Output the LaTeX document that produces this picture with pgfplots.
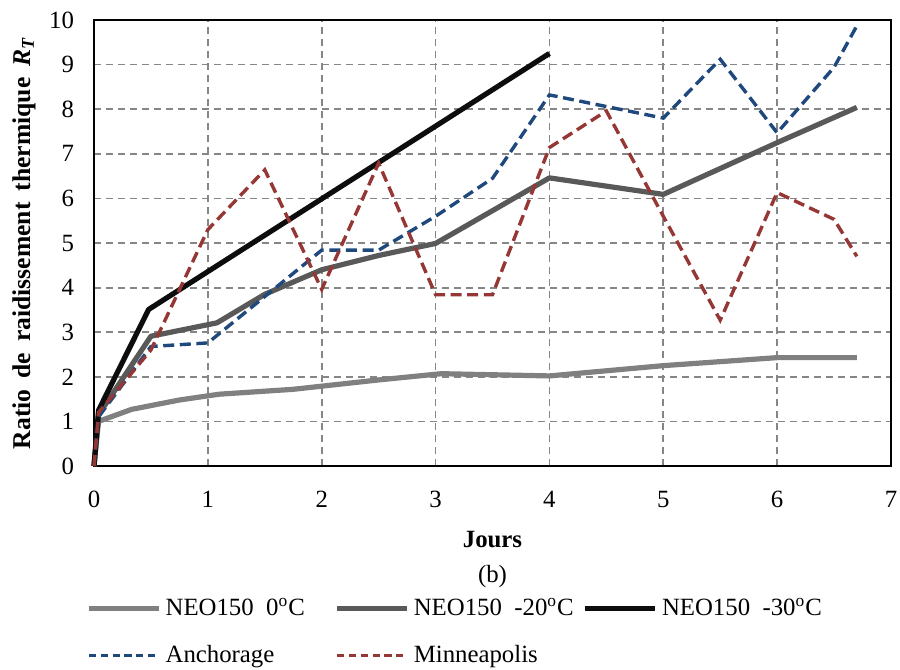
\documentclass[border=0pt]{standalone}
\usepackage{pgfplots}
\pgfplotsset{compat=1.18}
\usepackage{fontspec}
\setmainfont{Liberation Serif}

\definecolor{neoA}{RGB}{128,128,128}
\definecolor{neoB}{RGB}{89,89,89}
\definecolor{neoC}{RGB}{13,13,13}
\definecolor{anch}{RGB}{31,73,125}
\definecolor{minn}{RGB}{149,55,53}
\definecolor{gridc}{RGB}{134,134,134}

\newcommand{\fs}{\fontsize{12.4}{14.5}\selectfont}

\begin{document}
\begin{tikzpicture}
\begin{axis}[
  scale only axis,
  width=398.5pt, height=223pt,
  xmin=0, xmax=7, ymin=0, ymax=10,
  xtick={0,1,...,7}, ytick={0,1,...,10},
  major tick length=0pt,
  grid=major,
  major grid style={gridc, line width=0.9pt, dash pattern=on 3.5pt off 2.5pt},
  axis line style={black, line width=0.8pt},
  tick label style={font=\fs},
  /pgf/number format/assume math mode=true,
  xticklabel style={yshift=-9pt},
  yticklabel style={xshift=-6.5pt},
  clip=false,
  legend columns=3,
  legend style={at={(axis description cs:0,0)}, anchor=north west,
    xshift=-7pt, yshift=-62pt, draw=none, fill=none, font=\fs,
    /tikz/every even column/.append style={column sep=4pt},
    row sep=9.5pt},
  legend cell align=left,
  legend image code/.code={\draw[#1] (0pt,0pt) -- (35pt,0pt);},
  dashleg/.style={legend image post style={dash pattern=on 3.6pt off 2.3pt}},
]
\addplot[neoA, line width=2.6pt, line join=round] coordinates {
  (0,0) (0.04,1.0) (0.33,1.27) (0.75,1.48) (1.1,1.61) (1.75,1.72)
  (2.5,1.93) (3.05,2.07) (4.0,2.02) (5.0,2.25) (6.0,2.43) (6.7,2.43)};
\addlegendentry{\makebox[78.5pt][l]{NEO150\ \ 0\textsuperscript{o}C}}
\addplot[neoB, line width=2.6pt, line join=round] coordinates {
  (0,0) (0.04,1.15) (0.5,2.91) (1.08,3.21) (1.5,3.85) (2.0,4.40)
  (2.5,4.72) (3.0,4.99) (4.0,6.46) (5.0,6.09) (6.0,7.25) (6.7,8.04)};
\addlegendentry{\makebox[78.5pt][l]{NEO150\ \ -20\textsuperscript{o}C}}
\addplot[neoC, line width=2.6pt, line join=round] coordinates {
  (0,0) (0.04,1.25) (0.48,3.51) (1.0,4.36) (2.0,5.99) (3.0,7.62) (4.0,9.25)};
\addlegendentry{NEO150\ \ -30\textsuperscript{o}C}
\addplot[anch, line width=1.7pt, dash pattern=on 5.5pt off 2.8pt, dashleg] coordinates {
  (0,0) (0.04,1.1) (0.5,2.68) (1.0,2.76) (2.0,4.84) (2.5,4.84) (3.0,5.6)
  (3.5,6.45) (4.0,8.32) (5.0,7.8) (5.5,9.12) (6.0,7.47) (6.5,8.94) (6.7,9.87)};
\addlegendentry{Anchorage}
\addplot[minn, line width=1.7pt, dash pattern=on 5.5pt off 2.8pt, dashleg] coordinates {
  (0,0) (0.04,1.2) (0.5,2.6) (1.0,5.3) (1.5,6.64) (2.0,3.96) (2.5,6.79)
  (3.0,3.84) (3.5,3.84) (4.0,7.14) (4.5,7.96) (5.0,5.6) (5.5,3.27)
  (6.0,6.13) (6.5,5.53) (6.7,4.70)};
\addlegendentry{Minneapolis}
\end{axis}
\node[font=\fs\bfseries] at ([yshift=-37pt]current axis.south) {Jours};
\node[font=\fs] at ([yshift=-55.5pt]current axis.south) {(b)};
\node[font=\fontsize{12.8}{15}\selectfont\bfseries, rotate=90, inner sep=0pt]
  at ([xshift=-35pt]current axis.west)
  {\makebox[206pt][s]{Ratio de raidissement thermique \textit{R}\textsubscript{\textit{T}}}};
\pgfresetboundingbox
\path ([xshift=-47pt, yshift=-101.5pt]current axis.south west)
  rectangle ([xshift=4.5pt, yshift=10pt]current axis.north east);
\end{tikzpicture}
\end{document}
